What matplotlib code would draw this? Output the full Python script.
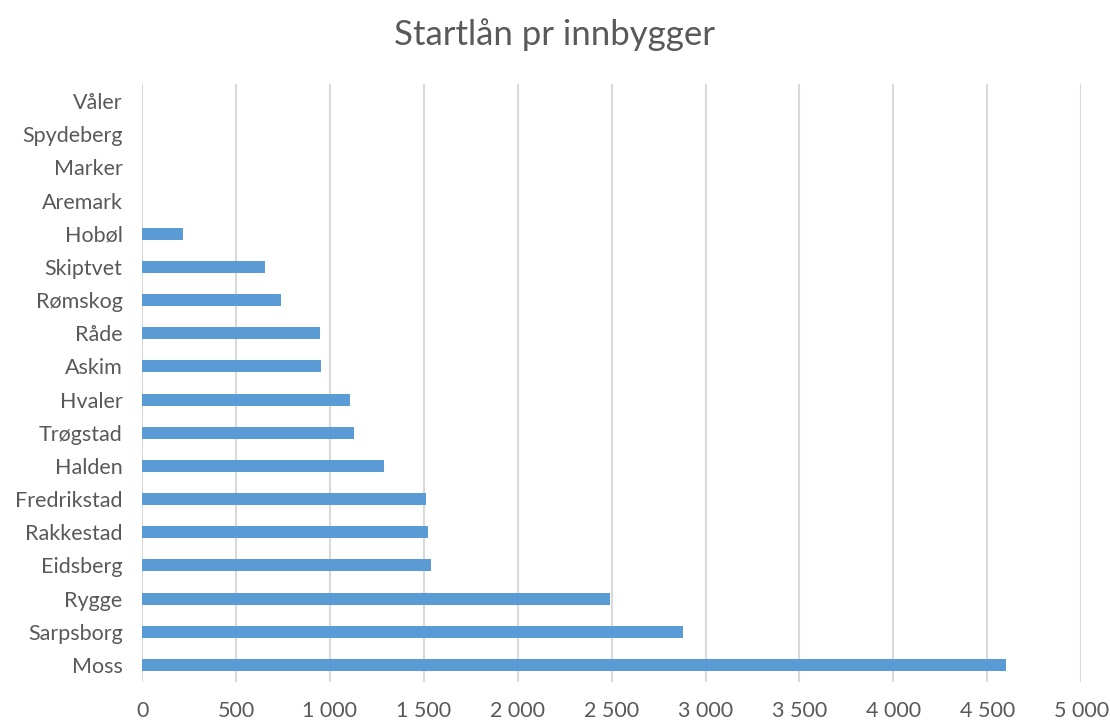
import matplotlib.pyplot as plt
from matplotlib.ticker import FuncFormatter

kommuner = ["Moss", "Sarpsborg", "Rygge", "Eidsberg", "Rakkestad", "Fredrikstad",
            "Halden", "Trøgstad", "Hvaler", "Askim", "Råde", "Rømskog",
            "Skiptvet", "Hobøl", "Aremark", "Marker", "Spydeberg", "Våler"]
startlan = [4600, 2880, 2490, 1540, 1525, 1510,
            1290, 1130, 1108, 950, 945, 738,
            653, 220, 0, 0, 0, 0]
xticks = list(range(0, 5001, 500))

plt.rcParams['font.family'] = ['Lato', 'DejaVu Sans']

fig = plt.figure(figsize=(11.1, 7.22), dpi=100)
ax = fig.add_axes([0.128, 0.056, 0.846, 0.827])

ax.barh(range(len(kommuner)), startlan, height=0.36, color="#5b9bd5", zorder=3)

ax.set_xlim(0, 5000)
ax.set_ylim(-0.5, len(kommuner) - 0.5)
ax.set_xticks(xticks)
ax.xaxis.set_major_formatter(FuncFormatter(lambda v, p: f"{int(v):,}".replace(",", " ")))
ax.set_yticks(range(len(kommuner)))
ax.set_yticklabels(kommuner)

ax.grid(axis="x", color="#d9d9d9", linewidth=1.5, zorder=0)
for s in ax.spines.values():
    s.set_visible(False)
ax.tick_params(axis="both", length=0, labelsize=15.5, labelcolor="#595959")
ax.tick_params(axis="y", pad=14)
ax.tick_params(axis="x", pad=14)

fig.suptitle("Startlån pr innbygger", y=0.975, fontsize=25, color="#595959")

fig.savefig("out.png", dpi=100)
